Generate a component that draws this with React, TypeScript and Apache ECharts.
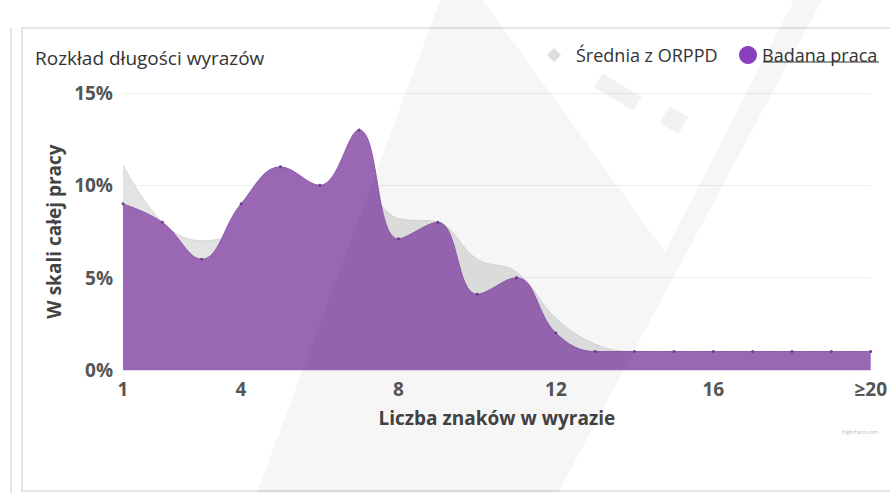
import React, { useEffect, useRef } from "react";
import * as echarts from "echarts";

const categories = ["1","2","3","4","5","6","7","8","9","10","11","12","13","14","15","16","17","18","19","≥20"];
const labelIndices = [0, 3, 7, 11, 15, 19];
const sredniaValues = [11.1, 8.0, 7.0, 7.5, 9.0, 9.8, 9.8, 8.2, 8.0, 6.0, 5.3, 2.8, 1.4, 1.0, 1.0, 1.0, 1.0, 1.0, 1.0, 1.0];
const badanaValues = [9.0, 8.0, 6.0, 9.0, 11.0, 10.0, 13.0, 7.1, 8.0, 4.1, 5.0, 2.0, 1.0, 1.0, 1.0, 1.0, 1.0, 1.0, 1.0, 1.0];
const yTicks = [0, 5, 10, 15];

const FONT = "'Open Sans', 'DejaVu Sans', sans-serif";

export default function App() {
  const ref = useRef<HTMLDivElement>(null);
  useEffect(() => {
    if (!ref.current) return;
    const chart = echarts.init(ref.current, undefined, { renderer: "svg" });
    chart.setOption({
      animation: false,
      backgroundColor: "#ffffff",
      title: {
        text: "Rozkład długości wyrazów",
        left: 30,
        top: 43,
        textStyle: { fontFamily: FONT, fontSize: 19, fontWeight: "normal", color: "#333" },
      },
      legend: [
        {
          left: 542,
          top: 41,
          itemWidth: 14,
          itemHeight: 14,
          textStyle: { fontFamily: FONT, fontSize: 18, color: "#333", padding: [0, 0, 0, 10] },
          data: [{ name: "Średnia z ORPPD", icon: "diamond", itemStyle: { color: "#dddddd" } }],
        },
        {
          left: 734,
          top: 41,
          itemWidth: 18,
          itemHeight: 18,
          textStyle: { fontFamily: FONT, fontSize: 18, color: "#333" },
          data: [{ name: "Badana praca", icon: "circle", itemStyle: { color: "#8a3fbf" } }],
        },
      ],
      grid: { left: 123, right: 16, top: 93, bottom: 123, containLabel: false },
      xAxis: {
        type: "category",
        data: categories,
        boundaryGap: false,
        name: "Liczba znaków w wyrazie",
        nameLocation: "middle",
        nameGap: 38,
        nameTextStyle: { fontFamily: FONT, fontSize: 19, fontWeight: "bold", color: "#444" },
        axisLine: { show: true, lineStyle: { color: "#e6d9ee", width: 1 } },
        axisTick: { show: false },
        axisLabel: {
          interval: (i: number) => labelIndices.includes(i),
          fontFamily: FONT,
          fontSize: 19,
          fontWeight: "bold",
          color: "#555",
          margin: 9,
        },
        splitLine: { show: false },
      },
      yAxis: {
        type: "value",
        min: 0,
        max: 15,
        interval: 5,
        name: "W skali całej pracy",
        nameLocation: "middle",
        nameGap: 53,
        nameTextStyle: { fontFamily: FONT, fontSize: 19, fontWeight: "bold", color: "#444" },
        axisLine: { show: false },
        axisTick: { show: false },
        axisLabel: {
          formatter: (v: number) => (yTicks.includes(v) ? v + "%" : ""),
          fontFamily: FONT,
          fontSize: 19,
          fontWeight: "bold",
          color: "#555",
          margin: 10,
        },
        splitLine: { show: true, lineStyle: { color: "#eeeeee", width: 1 } },
      },
      series: [
        {
          name: "Średnia z ORPPD",
          type: "line",
          data: sredniaValues,
          smooth: 0.4,
          showSymbol: false,
          symbol: "diamond",
          itemStyle: { color: "#dddddd" },
          lineStyle: { color: "#d8d8d8", width: 1 },
          areaStyle: { color: "#e3e3e3", opacity: 1 },
          z: 2,
        },
        {
          name: "Badana praca",
          type: "line",
          data: badanaValues,
          smooth: 0.4,
          showSymbol: true,
          symbol: "circle",
          symbolSize: 3,
          itemStyle: { color: "#6e3c8c" },
          lineStyle: { color: "#8d5aa8", width: 1 },
          areaStyle: { color: "#9a67b5", opacity: 1 },
          z: 3,
        },
      ],
      graphic: [
        { type: "line", shape: { x1: 11, y1: 28, x2: 11, y2: 493 }, style: { stroke: "#e4e4e4", lineWidth: 2 }, z: -1 },
        { type: "rect", shape: { x: 22, y: 28, width: 880, height: 463 }, style: { fill: "none", stroke: "#e4e4e4", lineWidth: 2 }, z: -1 },
        {
          type: "polygon",
          silent: true,
          shape: { points: [[440, 0], [483, 0], [665, 252], [794, 0], [822, 0], [558, 493], [257, 493]] },
          style: { fill: "rgba(0,0,0,0.035)" },
          z: 100,
        },
        {
          type: "rect",
          silent: true,
          x: 618,
          y: 92,
          rotation: -0.54,
          shape: { x: -23, y: -8, width: 46, height: 16 },
          style: { fill: "rgba(0,0,0,0.05)" },
          z: 100,
        },
        {
          type: "rect",
          silent: true,
          x: 674,
          y: 120,
          rotation: -0.54,
          shape: { x: -11, y: -10, width: 22, height: 20 },
          style: { fill: "rgba(0,0,0,0.05)" },
          z: 100,
        },
        { type: "line", shape: { x1: 763, y1: 62, x2: 879, y2: 62 }, style: { stroke: "#333", lineWidth: 1 }, z: 10 },
        {
          type: "text",
          x: 878,
          y: 432,
          style: { text: "highcharts.com", fontSize: 5, fill: "#bbbbbb", align: "right", verticalAlign: "middle", fontFamily: FONT },
        },
      ],
    });
    return () => chart.dispose();
  }, []);
  return <div ref={ref} style={{ position: "fixed", left: 0, top: 0, width: 890, height: 493 }} />;
}
